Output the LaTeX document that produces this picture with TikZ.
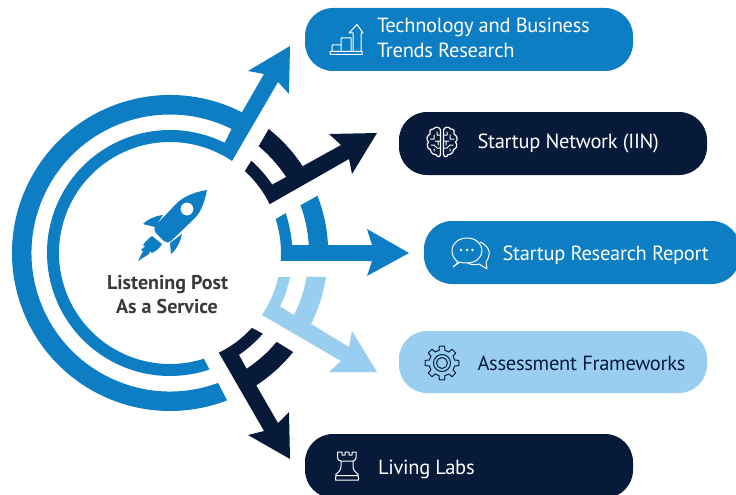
\documentclass[tikz,border=0pt]{standalone}
\usepackage{fontspec}
\setmainfont{PT Sans}
\definecolor{midblue}{HTML}{0D7DC4}
\definecolor{darknavy}{HTML}{081A3A}
\definecolor{lightblue}{HTML}{9ACEF1}
\definecolor{centertext}{HTML}{3A3A3C}
\newfontfamily\labelfont[LetterSpace=-1.4]{PT Sans}
\tikzset{
  pill/.style={rounded corners=28pt,inner sep=0pt,outer sep=0pt,draw=none},
  labeltext/.style={anchor=base west,inner sep=0pt,outer sep=0pt,font=\labelfont\fontsize{20.5}{25}\selectfont},
  centerlabel/.style={anchor=base,inner sep=0pt,outer sep=0pt,text=centertext,font=\bfseries\fontsize{20}{24}\selectfont},
  iconline/.style={line width=1pt,line join=round,line cap=round,fill=none}
}
\begin{document}
\begin{tikzpicture}[x=1pt,y=1pt,yscale=-1]
\useasboundingbox (0,0) rectangle (736,495);
\clip (0,0) rectangle (736,495);
% pills
\node[pill,fill=midblue,minimum width=328pt,minimum height=63pt] (p1) at (469,39.5) {};
\node[pill,fill=darknavy,minimum width=308pt,minimum height=63pt] (p2) at (553,143.5) {};
\node[pill,fill=midblue,minimum width=316pt,minimum height=63pt] (p3) at (582,252.5) {};
\node[pill,fill=lightblue,minimum width=308pt,minimum height=62pt] (p4) at (553,362) {};
\node[pill,fill=darknavy,minimum width=328pt,minimum height=64pt] (p5) at (469,466) {};
% labels
\node[labeltext,text=white] (t1a) at (377,33) {Technology and Business};
\node[labeltext,text=white] (t1b) at (377,58) {Trends Research};
\node[labeltext,text=white] (t2) at (477.5,148) {Startup Network (IIN)};
\node[labeltext,text=white] (t3) at (502.5,260) {Startup Research Report};
\node[labeltext,text=darknavy] (t4) at (477.5,370) {Assessment Frameworks};
\node[labeltext,text=white] (t5) at (378,474) {Living Labs};
\node[centerlabel] (c1) at (167.5,289) {Listening Post};
\node[centerlabel] (c2) at (167,313) {As a Service};
% arrows, local frame at the circle centre
\begin{scope}[shift={(170,253)}]
\fill[midblue] (-62.9:158) arc[start angle=-62.9,end angle=-291.2,radius=158pt]
  -- (69.7:138.5) arc[start angle=69.7,end angle=296.4,radius=138.5pt]
  -- (-63.6:123) arc[start angle=-63.6,end angle=-288.7,radius=123pt]
  -- (72.2:111) arc[start angle=72.2,end angle=304,radius=111pt]
  -- (108,-171) -- (119,-159) -- (120,-207) -- (78,-182) -- (94,-179) -- cycle;
\fill[darknavy] (-33.2:158.5) arc[start angle=-33.2,end angle=-51.5,radius=158.5pt]
  -- (-50.3:138.8) arc[start angle=-50.3,end angle=-33.2,radius=138.8pt]
  -- (-33.8:123) arc[start angle=-33.8,end angle=-48.6,radius=123pt]
  -- (-47.6:111) arc[start angle=-47.6,end angle=-26.1,radius=111pt]
  -- (179,-94) -- (182,-79) -- (207,-120) -- (159,-119) -- (171,-108) -- cycle;
\fill[midblue] (158,-8) arc[start angle=-2.9,end angle=-21.2,radius=158.2pt]
  -- (-20.1:139) arc[start angle=-20.1,end angle=-3.3,radius=139pt]
  -- (122,-8) arc[start angle=-3.75,end angle=-19,radius=122.3pt]
  -- (-17.8:111) arc[start angle=-17.8,end angle=4.1,radius=111pt]
  -- (202,8) -- (197,23) -- (239,0) -- (197,-24) -- (202,-8) -- cycle;
\fill[lightblue] (156,24) arc[start angle=8.75,end angle=26.7,radius=157.8pt]
  -- (179,94) -- (182,78) -- (207,119) -- (159,119) -- (171,108)
  -- (92,62) arc[start angle=34,end angle=12.5,radius=110.6pt]
  -- (120,24) arc[start angle=11.3,end angle=25.9,radius=122.4pt]
  -- (124,62) arc[start angle=26.6,end angle=9.9,radius=139pt] -- cycle;
\fill[darknavy] (56.9:158) arc[start angle=56.9,end angle=38.8,radius=158pt]
  -- (39.8:138.8) arc[start angle=39.8,end angle=56.5,radius=138.8pt]
  -- (55.9:123) arc[start angle=55.9,end angle=41,radius=123pt]
  -- (42.4:111) arc[start angle=42.4,end angle=63.9,radius=111pt]
  -- (94,178) -- (78,182) -- (120,206) -- (119,159) -- (108,170) -- cycle;
\end{scope}
% rocket
\fill[midblue,even odd rule] (207,190) .. controls (194,192) and (183,197) .. (177,203)
  -- (155,226) .. controls (154,229) and (154,231) .. (156,233)
  -- (164,241) .. controls (166,243) and (168,243) .. (171,241)
  -- (195,218) .. controls (201,212) and (205,201) .. (207,190) -- cycle
  (187,209) circle[radius=6.5pt];
\fill[midblue] (163,215) .. controls (155,216) and (148,219) .. (143,224) -- (155,227) -- cycle;
\fill[midblue] (182,234) -- (170,243) -- (171,254) .. controls (176,250) and (180,243) .. (182,234) -- cycle;
\fill[midblue] (138,261) -- (143,251) -- (141,250) -- (145,246) -- (143,245) .. controls (146,241) and (149,238) .. (152,236)
  -- (162,244) .. controls (160,248) and (156,251) .. (152,253) -- (150,251) -- (149,254) -- cycle;
% chart icon
\draw[iconline,white] (330,54.5) rectangle (362,51.5)
  (332,51.5) -- (332,45) -- (341,45) -- (341,51.5)
  (341,45) -- (341,38) -- (351,38) -- (351,51.5)
  (353,51.5) -- (353,33) -- (349,33) -- (357,24.5) -- (363,33) -- (361,33) -- (361,51.5);
% brain icon
\begin{scope}[shift={(442,142)}]
\foreach \sx in {1,-1}{
\begin{scope}[xscale=\sx]
\draw[iconline,white,line width=1.2pt] (1.5,-12) .. controls (2,-15) and (7,-16) .. (8.5,-13)
  .. controls (12,-13.5) and (13.5,-10) .. (12,-8)
  .. controls (15.5,-6) and (16,-2) .. (13.5,0)
  .. controls (16,3) and (14.5,7) .. (11.5,7.5)
  .. controls (11.5,11) and (8,13) .. (6,12.5)
  .. controls (5,15.5) and (1.5,15.5) .. (1.5,12) -- cycle;
\draw[iconline,white,line width=1pt] (1.5,-7) -- (5,-7) -- (5,-10)
  (8,-7) -- (8,-3) -- (12,-3)
  (1.5,-1) -- (7,-1)
  (4,-1) -- (4,3)
  (1.5,6) -- (5,6) -- (8,3) -- (11,3)
  (8,7) -- (8,9);
\end{scope}}
\end{scope}
% speech icon
\begin{scope}[shift={(467,251)}]
\draw[iconline,white] (-9,11) .. controls (-13,8) and (-15,4) .. (-15,0)
  .. controls (-15,-8) and (-8,-13) .. (0,-13)
  .. controls (8,-13) and (15,-8) .. (15,0)
  .. controls (15,7) and (8,12) .. (0,12)
  .. controls (-3,12) and (-5,12) .. (-7,11) -- (-14,16) .. controls (-12,14) and (-10,13) .. (-9,11) -- cycle;
\draw[iconline,white] (13,-9) .. controls (20,-6) and (23,-1) .. (22,4)
  .. controls (22,7) and (20,9) .. (19,11) -- (20,18) -- (12,13)
  .. controls (8,14) and (4,14) .. (1,12);
\fill[white] (-6,-1) circle[radius=1.4pt] (0,-1) circle[radius=1.4pt] (5.5,-1) circle[radius=1.4pt];
\end{scope}
% gear icon
\begin{scope}[shift={(442,363)}]
\foreach \a in {0,45,...,315}{
\draw[iconline,darknavy] (\a-13:13) -- (\a-9:17) arc[start angle=\a-9,end angle=\a+9,radius=17pt] -- (\a+13:13)
  arc[start angle=\a+13,end angle=\a+32,radius=13pt];
}
\draw[iconline,darknavy] (0,0) circle[radius=8.5pt] (0,0) circle[radius=5.5pt];
\end{scope}
% rook icon
\draw[iconline,white] (337.5,452) -- (342,452) -- (342,455) -- (345,455) -- (345,452) -- (349,452) -- (349,455) -- (352,455) -- (352,452) -- (356,452)
  -- (356,458) .. controls (356,460) and (354,461) .. (353,461)
  -- (353,466) .. controls (353,470) and (355,472) .. (358,474) -- (358.5,480) -- (335.5,480) -- (336,474)
  .. controls (339,472) and (341,470) .. (341,466) -- (341,461)
  .. controls (340,461) and (337.5,460) .. (337.5,458) -- cycle
  (341,461) -- (353,461) (336,475.5) -- (358,475.5);
\end{tikzpicture}
\end{document}
